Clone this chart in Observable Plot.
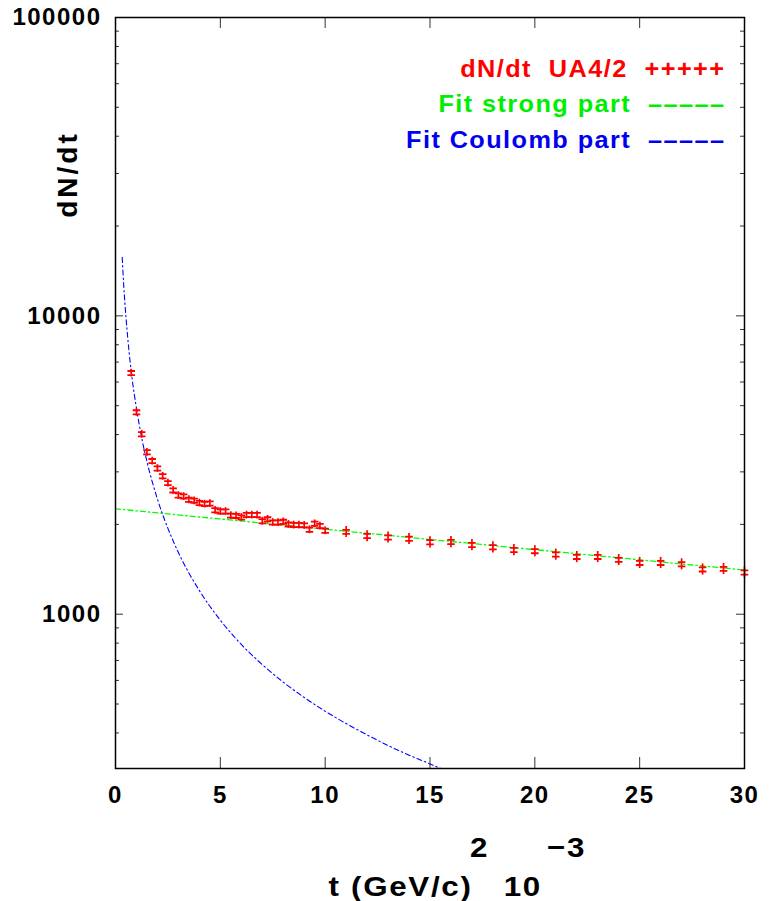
<!DOCTYPE html>
<html><head><meta charset="utf-8">
<script src="https://cdn.jsdelivr.net/npm/d3@7"></script>
<script src="https://cdn.jsdelivr.net/npm/@observablehq/plot@0.6"></script>
<style>body{margin:0;background:#fff}</style>
</head><body><div id="chart"></div>
<script>
// ---- data ----
const tData = [0.75,1.0,1.25,1.5,1.75,2.0,2.25,2.5,2.75,3.0,3.25,3.5,3.75,4.0,4.25,4.5,4.75,5.0,5.25,5.5,5.75,6.0,6.25,6.5,6.75,7.0,7.25,7.5,7.75,8.0,8.25,8.5,8.75,9.0,9.25,9.5,9.75,10.0,
  11,12,13,14,15,16,17,18,19,20,21,22,23,24,25,26,27,28,29,30];
const dnData = [6430,4750,4010,3490,3260,3080,2900,2750,2600,2500,2480,2420,2400,2360,2340,2350,2230,2210,2210,2140,2135,2110,2150,2150,2150,2050,2080,2030,2030,2040,2000,1990,1990,1985,1920,2010,1975,1905,
  1888,1828,1808,1790,1742,1746,1706,1676,1641,1627,1585,1556,1556,1521,1486,1486,1471,1413,1419,1380];
const dnErr = [190,140,120,105,98,92,87,83,78,75,74,73,72,71,70,70,67,66,66,64,64,63,64,64,64,62,62,61,61,61,60,60,60,60,58,60,59,57,
  80,78,77,76,75,75,73,72,70,70,68,67,67,65,64,64,63,61,61,59];
const strongT = [0, 30];
const strongV = [2256, 1406];
const coulombT = [0.32,0.4,0.5,0.6,0.8,1.0,1.25,1.5,2.0,2.5,3.0,4.0,5.0,6.0,7.0,8.0,9.0,10,11,12,13,14,15,15.7];
const coulombV = [15700,12400,9900,8200,6100,4900,3900,3250,2430,1940,1610,1200,955,792,678,592,526,473,430,394,363,337,315,300];
const xTicks = [0,5,10,15,20,25,30];
const yTicks = [1000,10000,100000];
const yMinor = [400,500,600,700,800,900,2000,3000,4000,5000,6000,7000,8000,9000,20000,30000,40000,50000,60000,70000,80000,90000];
const legendLabels = ["dN/dt\u00a0\u00a0UA4/2\u00a0\u00a0+++++", "Fit strong part\u00a0\u00a0\u2013\u2013\u2013\u2013\u2013", "Fit Coulomb part\u00a0\u00a0\u2013\u2013\u2013\u2013\u2013"];
const legendColors = ["#ff0000", "#00ee00", "#0000ee"];
const yLabel = "dN/dt";
const xLabel = "t (GeV/c)\u00a0\u00a0\u00a010";
const xSup1 = "2", xSup2 = "\u22123";

// ---- build ----
const pts = tData.map((t, i) => ({t, v: dnData[i], e: dnErr[i]}));
const strong = strongT.map((t, i) => ({t, v: strongV[i]}));
const coul = coulombT.map((t, i) => ({t, v: coulombV[i]}));

const W = 769, H = 901, ML = 115, MR = 25, MT = 17, MB = 133;
const FW = W - ML - MR, FH = H - MT - MB;

const capSymbol = {draw(ctx, size) {
  const r = Math.sqrt(size / Math.PI);
  ctx.moveTo(-r, -r * 0.55); ctx.lineTo(r, -r * 0.55);
  ctx.moveTo(-r, r * 0.55); ctx.lineTo(r, r * 0.55);
}};

const legendMarks = legendLabels.map((lab, i) => Plot.text([lab], {
  text: d => d, frameAnchor: "top-right", dx: -19, dy: 59 + i * 35.5,
  textAnchor: "end", lineAnchor: "bottom", fill: legendColors[i], fontSize: 23, ariaDescription: "legend"
}));

const chart = Plot.plot({
  width: W, height: H,
  marginLeft: ML, marginRight: MR, marginTop: MT, marginBottom: MB,
  style: "font-family: 'Liberation Sans', Arial, sans-serif; font-weight: bold; font-size: 24px; letter-spacing: 1.5px; background: #fff; color: #000;",
  x: {domain: [0, 30]},
  y: {type: "log", domain: [304, 100000]},
  marks: [
    Plot.line(strong, {x: "t", y: "v", stroke: "#00ff00", strokeWidth: 1.3, strokeDasharray: "5,3,1.5,3", clip: true}),
    Plot.line(coul, {x: "t", y: "v", stroke: "#0000ff", strokeWidth: 1.1, strokeDasharray: "5,3,1.5,3", curve: "monotone-x", clip: true}),
    Plot.ruleX(pts, {x: "t", y1: d => d.v - d.e, y2: d => d.v + d.e, stroke: "#ff0000", strokeWidth: 1.7}),
    Plot.dot(pts, {x: "t", y: "v", r: 3.8, symbol: capSymbol, stroke: "#ff0000", strokeWidth: 1.8, fill: "none"}),
    Plot.tickX(xTicks, {x: d => d, insetTop: FH - 11, stroke: "#333"}),
    Plot.tickX(xTicks, {x: d => d, insetBottom: FH - 11, stroke: "#333"}),
    Plot.tickY(yTicks, {y: d => d, insetRight: FW - 8, stroke: "#333"}),
    Plot.tickY(yTicks, {y: d => d, insetLeft: FW - 8, stroke: "#333"}),
    Plot.tickY(yMinor, {y: d => d, insetRight: FW - 4, stroke: "#333"}),
    Plot.tickY(yMinor, {y: d => d, insetLeft: FW - 4, stroke: "#333"}),
    Plot.frame({stroke: "#000", strokeWidth: 1.5}),
    Plot.axisX({ticks: xTicks, tickSize: 0, tickPadding: 17, tickFormat: d => String(d), label: null}),
    Plot.axisY({ticks: yTicks, tickSize: 0, tickPadding: 14, tickFormat: d => String(d), label: null}),
    ...legendMarks,
    Plot.text([yLabel], {text: d => d, frameAnchor: "top-left", dx: -47, dy: 157, rotate: -90, textAnchor: "middle", lineAnchor: "middle", fontSize: 28, ariaDescription: "ylabel"}),
    Plot.text([xLabel], {text: d => d, frameAnchor: "bottom-left", dx: 213, dy: 127, textAnchor: "start", lineAnchor: "bottom", fontSize: 28, ariaDescription: "xlabel"}),
    Plot.text([xSup1], {text: d => d, frameAnchor: "bottom-left", dx: 364, dy: 88, textAnchor: "middle", lineAnchor: "bottom", fontSize: 28, ariaDescription: "xlabel"}),
    Plot.text([xSup2], {text: d => d, frameAnchor: "bottom-left", dx: 451, dy: 88, textAnchor: "middle", lineAnchor: "bottom", fontSize: 28, ariaDescription: "xlabel"})
  ]
});

// horizontal stretch of text, as in the reference rendering
function stretch(sel, sx, ls) {
  chart.querySelectorAll(sel).forEach(g => {
    if (ls != null) g.setAttribute("letter-spacing", ls + "px");
    g.querySelectorAll("text").forEach(t => {
      const tr = t.getAttribute("transform") || "";
      t.setAttribute("transform", tr + ` scale(${sx},1)`);
    });
  });
}
stretch('g[aria-description="legend"]', 1.1, 1.3);
stretch('g[aria-description="xlabel"]', 1.12, 1.5);
stretch('g[aria-description="ylabel"]', 1, 3);
document.getElementById("chart").appendChild(chart);
</script>
</body></html>
